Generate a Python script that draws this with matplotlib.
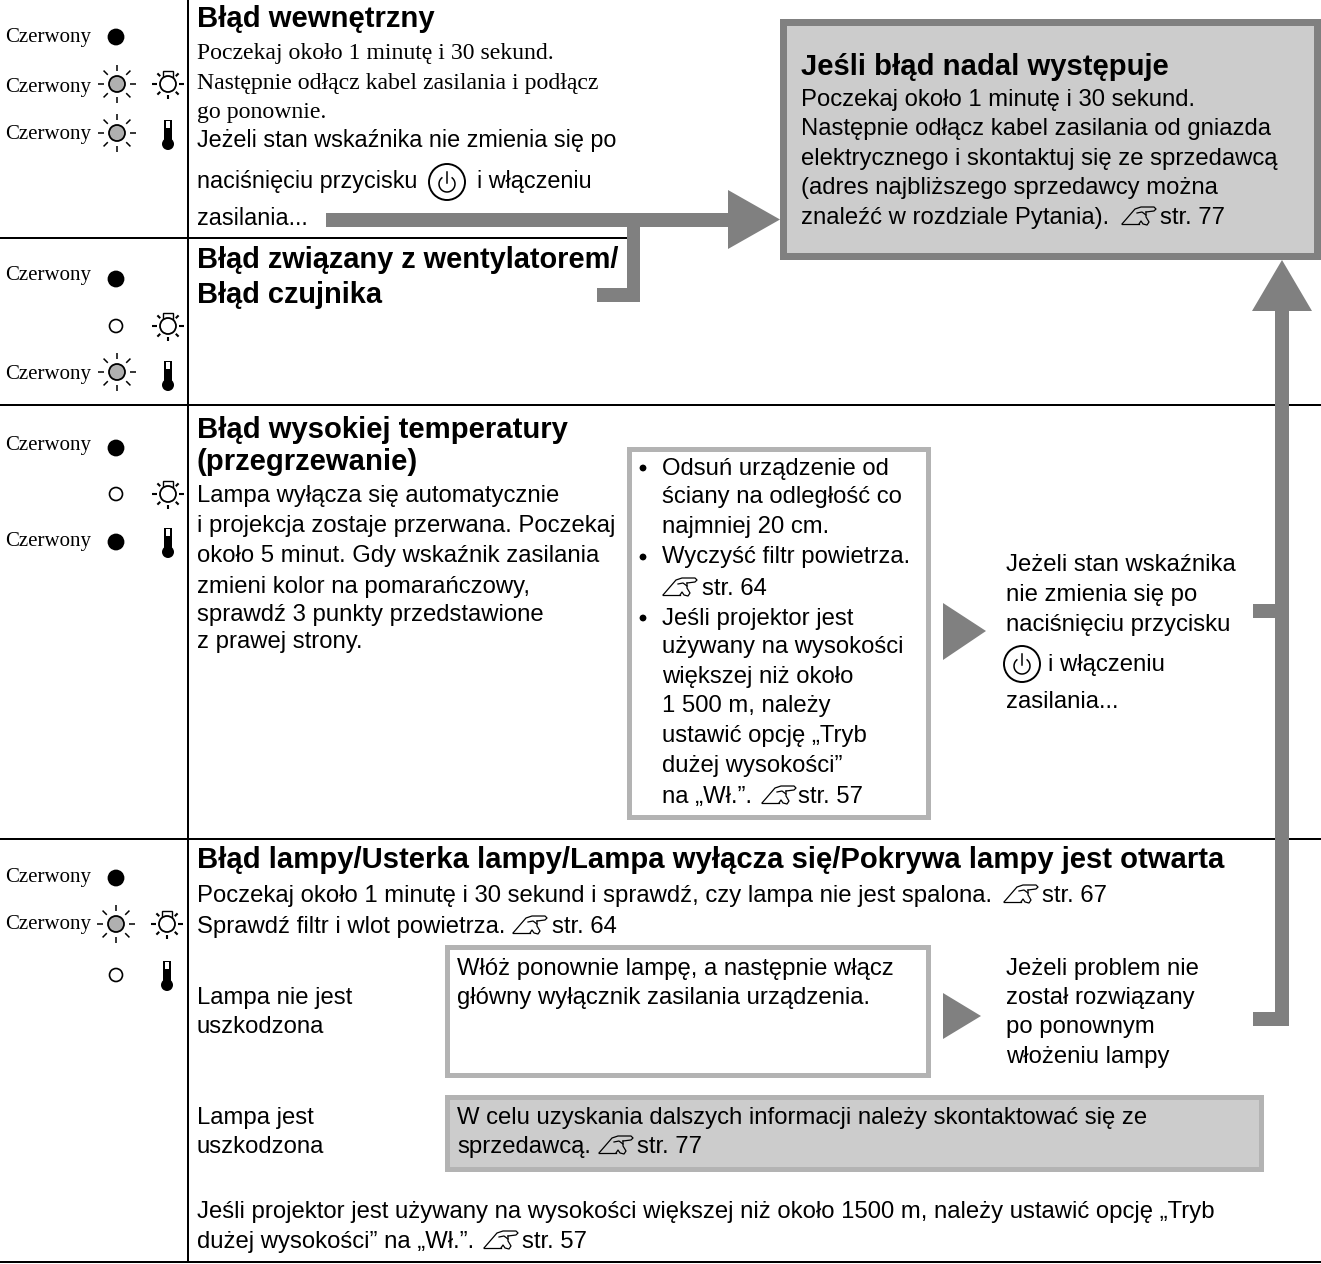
import matplotlib
matplotlib.use("Agg")
import matplotlib.pyplot as plt
from matplotlib.patches import Circle, Rectangle, Polygon
import numpy as np

# --- teksty ---
LABEL = "Czerwony"
titles = ["Błąd wewnętrzny", "Błąd związany z wentylatorem/", "Błąd czujnika",
          "Błąd wysokiej temperatury", "(przegrzewanie)",
          "Błąd lampy/Usterka lampy/Lampa wyłącza się/Pokrywa lampy jest otwarta"]
serif_lines = ["Poczekaj około 1 minutę i 30 sekund.",
               "Następnie odłącz kabel zasilania i podłącz",
               "go ponownie."]
row1_lines = ["Jeżeli stan wskaźnika nie zmienia się po",
              "naciśnięciu przycisku", "i włączeniu", "zasilania..."]
big_title = "Jeśli błąd nadal występuje"
big_lines = ["Poczekaj około 1 minutę i 30 sekund.",
             "Następnie odłącz kabel zasilania od gniazda",
             "elektrycznego i skontaktuj się ze sprzedawcą",
             "(adres najbliższego sprzedawcy można",
             "znaleźć w rozdziale Pytania).", "str. 77"]
temp_lines = ["Lampa wyłącza się automatycznie",
              "i projekcja zostaje przerwana. Poczekaj",
              "około 5 minut. Gdy wskaźnik zasilania",
              "zmieni kolor na pomarańczowy,",
              "sprawdź 3 punkty przedstawione",
              "z prawej strony."]
bullet_lines = ["Odsuń urządzenie od", "ściany na odległość co", "najmniej 20 cm.",
                "Wyczyść filtr powietrza.", "str. 64", "Jeśli projektor jest",
                "używany na wysokości", "większej niż około", "1 500 m, należy",
                "ustawić opcję „Tryb", "dużej wysokości”", "na „Wł.”.", "str. 57"]
check_lines = ["Jeżeli stan wskaźnika", "nie zmienia się po", "naciśnięciu przycisku",
               "i włączeniu", "zasilania..."]
lamp_lines = ["Poczekaj około 1 minutę i 30 sekund i sprawdź, czy lampa nie jest spalona.",
              "str. 67", "Sprawdź filtr i wlot powietrza.", "str. 64"]
ok_label = ["Lampa nie jest", "uszkodzona"]
bad_label = ["Lampa jest", "uszkodzona"]
ok_box = ["Włóż ponownie lampę, a następnie włącz", "główny wyłącznik zasilania urządzenia."]
ok_next = ["Jeżeli problem nie", "został rozwiązany", "po ponownym", "włożeniu lampy"]
bad_box = ["W celu uzyskania dalszych informacji należy skontaktować się ze",
           "sprzedawcą.", "str. 77"]
foot_lines = ["Jeśli projektor jest używany na wysokości większej niż około 1500 m, należy ustawić opcję „Tryb",
              "dużej wysokości” na „Wł.”.", "str. 57"]

GRAY = "#808080"
W, H = 1321, 1264
SANS = "Liberation Sans"
SERIF = "Liberation Serif"
FS = 17.2
TS = 21.1

fig = plt.figure(figsize=(W / 100, H / 100), dpi=100)
ax = fig.add_axes([0, 0, 1, 1])
ax.set_xlim(0, W)
ax.set_ylim(H, 0)
ax.axis("off")


def txt(x, y, s, size=FS, family=SANS, weight="normal"):
    ax.text(x, y, s, fontsize=size, family=family, weight=weight, va="baseline", color="black", zorder=6)


def block(x, ys, lines, **kw):
    for y, s in zip(ys, lines):
        txt(x, y, s, **kw)


def rect(x0, y0, x1, y1, color, z=2):
    ax.add_patch(Rectangle((x0, y0), x1 - x0, y1 - y0, fc=color, ec="none", zorder=z))


def box(x0, y0, x1, y1, edge, lw, fill):
    rect(x0, y0, x1, y1, edge)
    rect(x0 + lw, y0 + lw, x1 - lw, y1 - lw, fill, z=3)


def tri(points):
    ax.add_patch(Polygon(points, closed=True, fc=GRAY, ec="none", zorder=5))


def dot(x, y):
    ax.add_patch(Circle((x, y), 8.4, fc="black", ec="none", zorder=4))


def hollow(x, y):
    ax.add_patch(Circle((x, y), 6.5, fc="white", ec="black", lw=1.2, zorder=4))


def sun(x, y):
    ax.add_patch(Circle((x, y), 8, fc="#b0b0b0", ec="black", lw=1.3, zorder=4))
    for a in np.arange(8) * np.pi / 4:
        ax.plot([x + 13 * np.cos(a), x + 19 * np.cos(a)], [y + 13 * np.sin(a), y + 19 * np.sin(a)],
                color="black", lw=1.1, solid_capstyle="butt", zorder=4)


def lamp(x, y):
    for a, r0, r1 in [(0, 11, 16), (180, 11, 16), (90, 11, 15), (45, 11, 15),
                      (135, 11, 15), (225, 11, 15), (315, 11, 15)]:
        t = np.deg2rad(a)
        ax.plot([x + r0 * np.cos(t), x + r1 * np.cos(t)], [y + r0 * np.sin(t), y + r1 * np.sin(t)],
                color="black", lw=1.5, solid_capstyle="butt", zorder=4)
    ax.add_patch(Rectangle((x - 5, y - 13), 10, 7, fc="white", ec="black", lw=1.0, zorder=4))
    ax.add_patch(Circle((x, y), 8, fc="white", ec="black", lw=1.3, zorder=5))


def thermo(x, y):
    ax.add_patch(Rectangle((x - 4, y - 14), 8, 24, fc="black", ec="none", zorder=4))
    ax.add_patch(Rectangle((x - 2.4, y - 12.6), 4.8, 7, fc="white", ec="none", zorder=5))
    ax.add_patch(Circle((x, y + 10), 6, fc="black", ec="none", zorder=4))


def power(x, y):
    ax.add_patch(Circle((x, y), 18, fc="none", ec="black", lw=1.4, zorder=5))
    t = np.deg2rad(np.linspace(-50, 230, 40))
    ax.plot(x + 8 * np.cos(t), y + 2 + 8 * np.sin(t), color="black", lw=1.1, zorder=5)
    ax.plot([x, x], [y - 10, y + 1], color="black", lw=1.1, zorder=5)


def hand(x, y):
    # ikona odsylacza: pochylona dlon, x,y = lewy dolny rog
    ax.plot([x, x + 13, x + 19, x + 32, x + 34, x + 32, x + 24], [y, y - 15, y - 17, y - 17, y - 15, y - 13, y - 12],
            color="black", lw=0.9, zorder=6)
    ax.plot([x, x + 17], [y, y], color="black", lw=0.9, zorder=6)
    ax.plot([x + 17, x + 19, x + 21, x + 25, x + 27, x + 24, x + 24], [y, y - 3, y, y + 1, y - 2, y - 7, y - 12],
            color="black", lw=0.9, zorder=6)
    ax.plot([x + 15, x + 20, x + 24], [y - 11, y - 12, y - 9], color="black", lw=0.9, zorder=6)


# --- linie tabeli ---
for y, x1 in [(237.5, 627), (405, W), (839, W), (1262, W)]:
    ax.plot([0, x1], [y, y], color="black", lw=1.44, zorder=1, solid_capstyle="butt")
ax.plot([188, 188], [0, 1262], color="black", lw=1.44, zorder=1, solid_capstyle="butt")

# --- szare strzalki ---
rect(326, 213, 730, 227, GRAY, z=5)
tri([(728, 190), (780, 219.5), (728, 249)])
rect(627, 226, 640, 302, GRAY, z=5)
rect(597, 288, 640, 302, GRAY, z=5)
rect(1275, 310, 1289, 1026, GRAY, z=5)
tri([(1282, 260), (1312, 311), (1252, 311)])
rect(1253, 604, 1282, 618, GRAY, z=5)
rect(1253, 1012, 1289, 1026, GRAY, z=5)
tri([(943, 603), (986, 631), (943, 660)])
tri([(943, 993), (981, 1016), (943, 1039)])

# --- ramki ---
box(780, 19, 1321, 260, GRAY, 7, "#cccccc")
box(627, 447, 931, 820, "#b3b3b3", 5, "white")
box(445, 945, 931, 1078, "#b3b3b3", 5, "white")
box(445, 1095, 1264, 1172, "#b3b3b3", 5, "#cccccc")

# --- ikony ---
for x, y in [(116, 37), (116, 279), (116, 448), (116, 542), (116, 878)]:
    dot(x, y)
for x, y in [(117, 84), (117, 133), (117, 372), (116, 924)]:
    sun(x, y)
for x, y in [(168, 84), (168, 326), (168, 494), (167, 924)]:
    lamp(x, y)
for x, y in [(168, 134), (168, 375), (168, 542), (167, 975)]:
    thermo(x, y)
for x, y in [(116, 326), (116, 494), (116, 975)]:
    hollow(x, y)
for y in [42, 92, 139, 280, 379, 450, 546, 882, 929]:
    txt(5, y, LABEL, size=15, family=SERIF)

# --- wiersz 1 ---
txt(197, 27, titles[0], size=TS, weight="bold")
block(197, [59, 89, 118], serif_lines, size=17.1, family=SERIF)
txt(197, 147, row1_lines[0], size=16.85)
txt(197, 188, row1_lines[1], size=16.85)
power(447, 182)
txt(477, 188, row1_lines[2], size=16.85)
txt(197, 225, row1_lines[3], size=16.85)

# --- wiersz 2 ---
txt(197, 268, titles[1], size=20.9, weight="bold")
txt(197, 303, titles[2], size=20.9, weight="bold")

# --- wiersz 3 ---
txt(197, 438, titles[3], size=TS, weight="bold")
txt(197, 470, titles[4], size=TS, weight="bold")
block(197, [502, 532, 562, 593, 621, 648], temp_lines)

# --- punkty ---
for y in [468, 557, 618]:
    ax.add_patch(Circle((643, y), 3.4, fc="black", ec="none", zorder=6))
ys = [475, 503, 533, 563, 595, 625, 653, 683, 712, 742, 772, 803]
block(662, ys[:4], bullet_lines[:4])
hand(663, 595)
txt(702, ys[4], bullet_lines[4])
block(662, ys[5:], bullet_lines[5:12])
hand(762, 803)
txt(798, 803, bullet_lines[12])

# --- prawa kolumna ---
block(1006, [571, 601, 631], check_lines[:3])
power(1022, 664)
txt(1048, 671, check_lines[3])
txt(1006, 708, check_lines[4])

# --- duza ramka ---
txt(801, 75, big_title, size=TS, weight="bold")
block(801, [106, 135, 165, 194], big_lines[:4])
txt(801, 224, big_lines[4])
hand(1122, 224)
txt(1160, 224, big_lines[5])

# --- wiersz 4 ---
txt(197, 868, titles[5], size=TS, weight="bold")
txt(197, 902, lamp_lines[0])
hand(1004, 902)
txt(1042, 902, lamp_lines[1])
txt(197, 933, lamp_lines[2])
hand(513, 933)
txt(552, 933, lamp_lines[3])
block(197, [1004, 1033], ok_label)
block(197, [1124, 1153], bad_label)
block(457, [975, 1004], ok_box)
block(1006, [975, 1004, 1033, 1063], ok_next)
txt(457, 1124, bad_box[0])
txt(457, 1153, bad_box[1])
hand(599, 1153)
txt(637, 1153, bad_box[2])
txt(197, 1218, foot_lines[0])
txt(197, 1248, foot_lines[1])
hand(484, 1248)
txt(522, 1248, foot_lines[2])

fig.savefig("out.png", dpi=100)
